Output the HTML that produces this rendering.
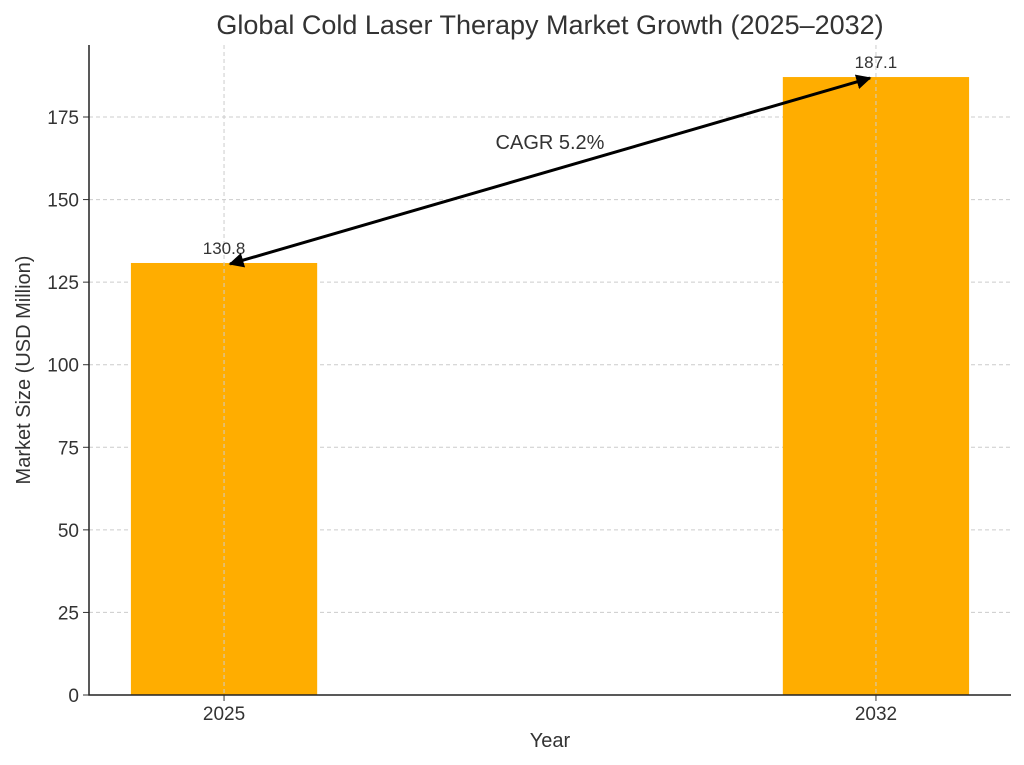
<!DOCTYPE html>
<html><head><meta charset="utf-8"><style>
html,body{margin:0;padding:0;background:#fff;}
svg{display:block;font-family:"Liberation Sans","DejaVu Sans",sans-serif;}
</style></head><body>
<svg id="chart" width="1024" height="765" viewBox="0 0 1024 765" xmlns="http://www.w3.org/2000/svg">
<defs><marker id="ah" viewBox="0 0 10 10" refX="9" refY="5" markerWidth="5" markerHeight="5" orient="auto-start-reverse"><path d="M0,0 L10,5 L0,10 z" fill="#000"/></marker></defs>
<text x="550" y="34" text-anchor="middle" font-size="27" fill="#333">Global Cold Laser Therapy Market Growth (2025–2032)</text>
<g id="grid"></g><g id="bars"></g><g id="axes"></g><g id="labels"></g>
<text x="550" y="747" text-anchor="middle" font-size="20" fill="#333">Year</text>
<text transform="translate(30,370) rotate(-90)" text-anchor="middle" font-size="20" fill="#333">Market Size (USD Million)</text>
</svg>
<script>
const categories = [2025, 2032];
const values = [130.8, 187.1];
const yTicks = [0, 25, 50, 75, 100, 125, 150, 175];
const cagrLabel = "CAGR 5.2%";
const NS = "http://www.w3.org/2000/svg";
const L = 89, R = 1011, B = 695, T = 45;
const xMin = 2023.55, xMax = 2033.45, yMax = 196.8;
const xs = v => L + (v - xMin) / (xMax - xMin) * (R - L);
const ys = v => B - v / yMax * (B - T);
function mk(tag, attrs, parent, text){const e=document.createElementNS(NS,tag);for(const k in attrs)e.setAttribute(k,attrs[k]);if(text!==undefined)e.textContent=text;document.getElementById(parent).appendChild(e);return e;}
yTicks.forEach(t=>{
  const g = mk('line',{x1:L,x2:R,y1:ys(t),y2:ys(t),stroke:'#ccc','stroke-dasharray':'4,3','stroke-width':1},'grid');
  
  
  const tk = mk('line',{x1:L-6,x2:L,y1:ys(t),y2:ys(t),stroke:'#333'},'axes');
  
  
  const lb = mk('text',{x:L-10,y:ys(t)+7,'text-anchor':'end','font-size':19,fill:'#333'},'axes',String(t));
  
  
});
const barW = 2;
categories.forEach((c,i)=>{
  const b = mk('rect',{x:xs(c-barW/2),y:ys(values[i]),width:xs(c+barW/2)-xs(c-barW/2),height:B-ys(values[i]),fill:'#FFAD00'},'bars');
  
  
  const g = mk('line',{x1:xs(c),x2:xs(c),y1:T,y2:B,stroke:'#ccc','stroke-dasharray':'4,3','stroke-width':1},'labels');
  
  
  const tk = mk('line',{x1:xs(c),x2:xs(c),y1:B,y2:B+6,stroke:'#333'},'axes');
  
  
  const lb = mk('text',{x:xs(c),y:B+25,'text-anchor':'middle','font-size':19,fill:'#333'},'axes',String(c));
  
  
  const vl = mk('text',{x:xs(c),y:ys(values[i])-9,'text-anchor':'middle','font-size':17,fill:'#333'},'labels',values[i].toFixed(1));
  
  
});
const ax = mk('path',{d:`M${L},${T} L${L},${B} L${R},${B}`,fill:'none',stroke:'#222','stroke-width':1.5},'axes');


const x1=xs(categories[0])+6, y1=ys(values[0])+1, x2=xs(categories[1])-6, y2=ys(values[1])+1;
const ar = mk('line',{x1:x1,y1:y1,x2:x2,y2:y2,stroke:'#000','stroke-width':3,'marker-start':'url(#ah)','marker-end':'url(#ah)'},'labels');


const ct = mk('text',{x:550,y:149,'text-anchor':'middle','font-size':20,fill:'#333'},'labels',cagrLabel);


</script>
</body></html>
